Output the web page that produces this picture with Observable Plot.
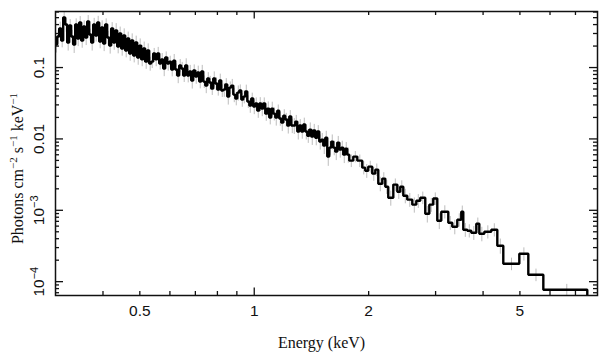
<!DOCTYPE html>
<html><head><meta charset="utf-8">
<script src="https://cdn.jsdelivr.net/npm/d3@7"></script>
<script src="https://cdn.jsdelivr.net/npm/@observablehq/plot@0.6"></script>
<style>
html,body{margin:0;padding:0;background:#fff;}
svg{display:block;}
</style></head><body><div id="chart"></div>
<script>
// Bin edges (keV)
const binEdges = [
 0.300,0.3031,0.3068,0.3105,0.3143,0.3181,0.3220,0.3259,0.3299,0.3339,0.3380,0.3421,0.3463,0.3505,0.3548,0.3591,0.3635,0.3679,0.3724,0.3769,
 0.3815,0.3862,0.3909,0.3956,0.4004,0.4053,0.4103,0.4153,0.4203,0.4255,0.4307,0.4359,0.4412,0.4466,0.4521,0.4576,0.4632,0.4688,0.4745,0.4803,
 0.4862,0.4921,0.4981,0.5042,0.5103,0.5165,0.5228,0.5292,0.5357,
 0.5422,0.5488,0.5555,0.5623,0.5691,0.5761,0.5831,0.5902,0.5974,0.6047,0.6121,0.6195,0.6271,0.6347,0.6425,0.6503,0.6582,0.6663,0.6744,0.6827,
 0.6910,0.6994,0.7080,0.7166,0.7254,0.7342,0.7432,0.7523,0.7614,0.7707,0.7801,0.7897,0.7993,0.8090,0.8189,0.8289,0.8390,0.8493,0.8596,0.8701,
 0.8807,0.8915,0.9023,0.9134,0.9245,0.9358,0.9472,0.9588,0.9705,0.9820,
 0.9940,1.0061,1.0184,1.0308,1.0434,1.0561,1.0690,1.0820,1.0952,1.1086,1.1221,1.1358,1.1496,1.1637,1.1779,1.1922,1.2068,1.2215,1.2363,1.2514,
 1.2667,1.2822,1.2978,1.3136,1.3296,1.3459,1.3623,1.3789,1.3957,1.4125,1.4297,1.4472,1.4648,1.4827,1.5008,1.5191,1.5376,1.5563,1.5753,1.5945,
 1.6139,1.6336,1.6535,1.6737,1.6941,1.7148,1.7357,1.7568,1.7783,
 1.822,1.867,1.924,1.959,1.995,2.044,2.082,2.120,2.172,2.212,2.252,2.322,2.379,2.422,2.467,2.527,2.605,2.669,2.734,2.818,
 2.888,2.958,3.031,3.105,3.240,3.319,3.421,3.505,3.548,3.635,3.724,3.839,3.910,4.030,4.204,4.360,4.521,4.982,5.261,5.762,7.520
];
// Flux per bin (photons cm^-2 s^-1 keV^-1)
const flux = [
 0.210,0.272,0.352,0.239,0.503,0.401,0.224,0.388,0.272,0.210,
 0.401,0.255,0.428,0.239,0.376,0.264,0.442,0.290,0.224,0.401,
 0.281,0.428,0.232,0.364,0.217,0.401,0.264,0.203,0.352,0.224,
 0.330,0.197,0.300,0.185,0.281,0.173,0.255,0.157,0.239,0.147,
 0.224,0.138,0.203,0.130,0.185,0.121,0.173,0.114,
 0.121,0.157,0.130,0.157,0.114,0.130,0.0968,0.138,0.114,0.121,
 0.0937,0.125,0.0937,0.0772,0.107,0.0968,0.0772,0.107,0.0772,0.0879,
 0.0657,0.0908,0.0748,0.0851,0.0636,0.0879,0.0636,0.0559,0.0701,0.0616,
 0.0508,0.0701,0.0597,0.0491,0.0657,0.0476,0.0491,0.0578,0.0392,0.0524,
 0.0559,0.0418,0.0368,0.0446,0.0476,0.0356,0.0392,0.0461,0.0334,0.0293,
 0.0368,0.0284,0.0313,0.0249,0.0313,0.0266,0.0313,0.0226,0.0266,0.0199,
 0.0266,0.0226,0.0199,0.0249,0.0193,0.0169,0.0212,0.0187,0.0154,0.0206,
 0.0154,0.0154,0.0175,0.0127,0.0154,0.0127,0.0159,0.0127,0.0111,0.0135,
 0.0108,0.0131,0.0104,0.0127,0.00917,0.00978,0.00806,0.0104,0.00565,0.00755,
 0.00917,0.00755,0.00663,0.00888,0.00708,0.00755,0.00602,0.00731,0.00602,
 0.00496,0.00565,0.00496,0.00396,0.00359,0.00409,0.00326,0.00371,0.00236,0.00278,0.00214,0.00150,0.00229,0.00182,0.00214,0.00160,0.00141,0.00120,0.00136,0.00150,
 0.000896,0.00120,0.00146,0.000715,0.000956,0.000670,0.000589,0.000738,0.000956,0.000535,0.000518,0.000485,0.000649,0.000470,0.000501,0.000535,0.000319,0.000178,0.000246,0.000125,0.0000770
];
// Fractional 1-sigma errors per bin
const fracErr = [
 0.24,0.22,0.23,0.21,0.20,0.22,0.24,0.21,0.22,0.25,0.20,0.23,0.21,0.22,0.20,0.23,0.21,0.19,0.24,0.22,
 0.19,0.22,0.21,0.24,0.23,0.20,0.22,0.24,0.21,0.22,0.25,0.21,0.23,0.22,0.24,0.21,0.23,0.22,0.24,0.21,
 0.23,0.22,0.24,0.21,0.23,0.22,0.24,0.22,
 0.20,0.18,0.21,0.22,0.19,0.21,0.23,0.20,0.22,0.19,0.21,0.22,0.20,0.23,0.21,0.22,0.20,0.24,0.21,0.22,
 0.24,0.20,0.22,0.23,0.21,0.22,0.20,0.23,0.21,0.22,0.20,0.24,0.21,0.19,0.23,0.20,0.22,0.21,0.24,0.20,
 0.22,0.23,0.21,0.24,0.20,0.22,0.21,0.23,0.20,0.22,
 0.19,0.23,0.20,0.22,0.21,0.23,0.20,0.22,0.24,0.21,0.23,0.21,0.24,0.20,0.22,0.25,0.21,0.22,0.24,0.21,
 0.23,0.25,0.22,0.24,0.21,0.22,0.23,0.24,0.22,0.24,0.25,0.22,0.23,0.21,0.24,0.22,0.25,0.23,0.27,0.22,
 0.24,0.23,0.25,0.22,0.24,0.23,0.25,0.22,0.24,
 0.20,0.18,0.20,0.21,0.22,0.19,0.22,0.20,0.23,0.21,0.22,0.24,0.20,0.22,0.21,0.23,0.22,0.24,0.22,0.20,
 0.26,0.22,0.20,0.25,0.21,0.22,0.23,0.21,0.20,0.22,0.21,0.22,0.20,0.23,0.21,0.21,0.24,0.20,0.21,0.20,0.19
];
const xLabelTicks = [0.5, 1, 2, 5];
const xLabelTexts = ["0.5", "1", "2", "5"];
const yLabelTicks = [1e-4, 1e-3, 0.01, 0.1];
const yLabelTexts = ["10^\u22124", "10^\u22123", "0.01", "0.1"];
const xMajorTicks = [1];
const xMinorTicks = [0.4, 0.5, 0.6, 0.7, 0.8, 0.9, 2, 3, 4, 5, 6, 7];
const yMajorTicks = [1e-4, 1e-3, 1e-2, 1e-1];
const yMinorTicks = [7e-5,8e-5,9e-5,2e-4,3e-4,4e-4,5e-4,6e-4,7e-4,8e-4,9e-4,2e-3,3e-3,4e-3,5e-3,6e-3,7e-3,8e-3,9e-3,
  0.02,0.03,0.04,0.05,0.06,0.07,0.08,0.09,0.2,0.3,0.4,0.5,0.6];
const xTitle = "Energy (keV)";
const yTitle = "Photons cm^\u22122^ s^\u22121^ keV^\u22121";

const bins = flux.map((f, i) => ({lo: binEdges[i], hi: binEdges[i + 1], f, e: f * fracErr[i]}));
const stepPts = [];
bins.forEach(b => { stepPts.push({x: b.lo, y: b.f}); stepPts.push({x: b.hi, y: b.f}); });
stepPts.push({x: binEdges[binEdges.length - 1], y: 1e-6});

const W = 608, H = 357, mL = 55, mR = 11, mT = 11, mB = 62;
const iw = W - mL - mR, ih = H - mT - mB;
const sans = "'Liberation Sans', Arial, Helvetica, sans-serif";
const serif = "'Liberation Serif', 'Times New Roman', Times, serif";
const ink = "#111";

const plot = Plot.plot({
  width: W, height: H,
  marginLeft: mL, marginRight: mR, marginTop: mT, marginBottom: mB,
  x: {type: "log", domain: [0.3, 8], axis: null},
  y: {type: "log", domain: [6.4e-5, 0.61], axis: null},
  style: {background: "#fff", fontFamily: sans},
  marks: [
    Plot.ruleX(bins, {x: d => (d.lo + d.hi) / 2, y1: d => d.f - d.e, y2: d => d.f + d.e, stroke: "#bdbdbd", strokeWidth: 1, clip: true}),
    Plot.line(stepPts, {x: "x", y: "y", stroke: "#000", strokeWidth: 2.4, strokeLinejoin: "miter", strokeLinecap: "butt", clip: true}),
    Plot.frame({stroke: ink, strokeWidth: 1.5}),
    // ticks (inward, all four sides)
    Plot.ruleX(xMinorTicks, {x: d => d, insetTop: ih - 4, stroke: ink, strokeWidth: 1.3}),
    Plot.ruleX(xMinorTicks, {x: d => d, insetBottom: ih - 4, stroke: ink, strokeWidth: 1.3}),
    Plot.ruleX(xMajorTicks, {x: d => d, insetTop: ih - 7.5, stroke: ink, strokeWidth: 1.3}),
    Plot.ruleX(xMajorTicks, {x: d => d, insetBottom: ih - 7.5, stroke: ink, strokeWidth: 1.3}),
    Plot.ruleY(yMinorTicks, {y: d => d, insetRight: iw - 4, stroke: ink, strokeWidth: 1.3}),
    Plot.ruleY(yMinorTicks, {y: d => d, insetLeft: iw - 4, stroke: ink, strokeWidth: 1.3}),
    Plot.ruleY(yMajorTicks, {y: d => d, insetRight: iw - 8, stroke: ink, strokeWidth: 1.3}),
    Plot.ruleY(yMajorTicks, {y: d => d, insetLeft: iw - 8, stroke: ink, strokeWidth: 1.3}),
    // tick labels
    Plot.text(xLabelTicks, {x: d => d, text: (d, i) => xLabelTexts[i], frameAnchor: "bottom", lineAnchor: "middle", textAnchor: "middle", dy: 16, fontSize: 15.5, fontFamily: sans, fill: ink}),
    Plot.text(yLabelTicks, {y: d => d, text: (d, i) => yLabelTexts[i], frameAnchor: "left", lineAnchor: "middle", textAnchor: "middle", dx: -16, rotate: -90, fontSize: 15.5, fontFamily: sans, fill: ink}),
    // axis titles
    Plot.text([xTitle], {text: d => d, frameAnchor: "bottom", lineAnchor: "middle", textAnchor: "middle", dx: -5, dy: 47, fontSize: 16, fontFamily: serif, fill: ink}),
    Plot.text([yTitle], {text: d => d, frameAnchor: "left", lineAnchor: "middle", textAnchor: "middle", dx: -38, dy: 15, rotate: -90, fontSize: 16, fontFamily: serif, fill: ink})
  ]
});

// turn "^" markup into superscript tspans
const ns = "http://www.w3.org/2000/svg";
d3.select(plot).selectAll("text").each(function () {
  const t = this.textContent;
  if (!t.includes("^")) return;
  const parts = t.split("^");
  const supSize = 11, S = 6;
  this.textContent = "";
  let shift = 0;
  parts.forEach((p, i) => {
    if (p === "") return;
    const ts = document.createElementNS(ns, "tspan");
    ts.textContent = p;
    const sup = i % 2 === 1;
    const target = sup ? -S : 0;
    if (target !== shift) { ts.setAttribute("dy", target - shift); shift = target; }
    if (sup) ts.setAttribute("font-size", supSize);
    this.appendChild(ts);
  });
});

document.getElementById("chart").appendChild(plot);
</script></body></html>
